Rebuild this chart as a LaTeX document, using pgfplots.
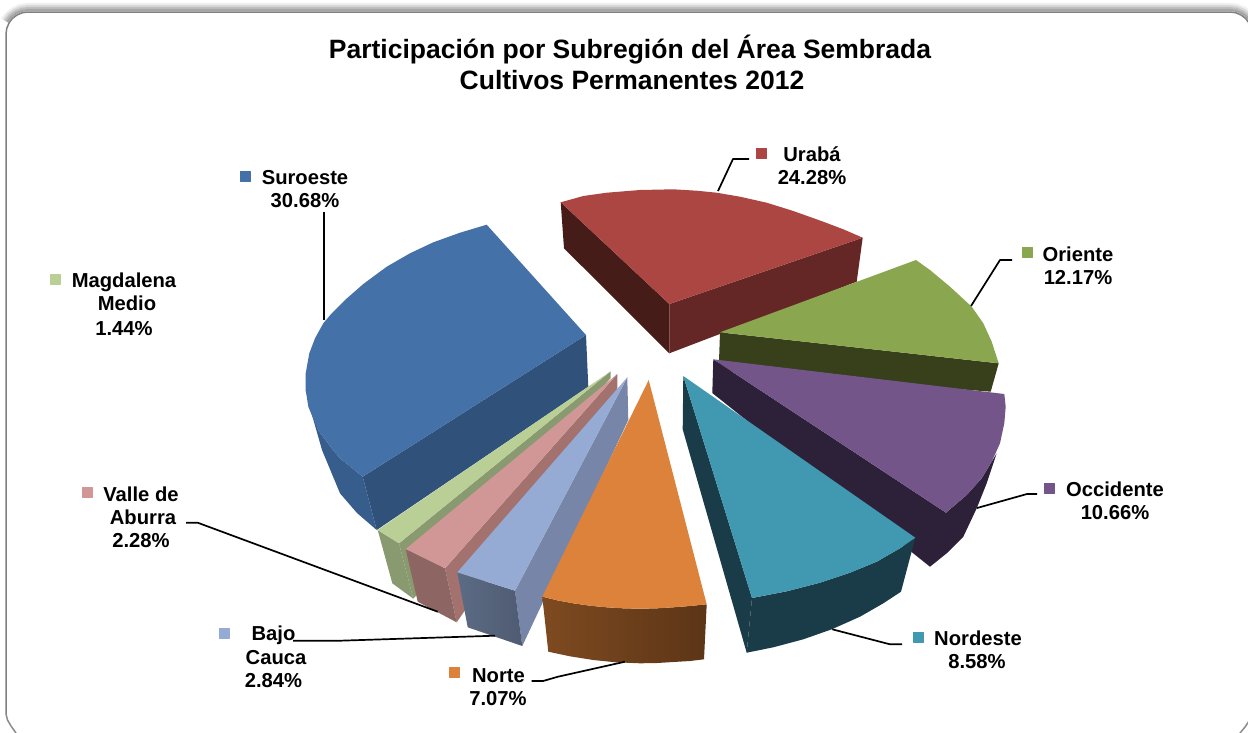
\documentclass[border=0pt]{standalone}
\usepackage{pgfplots}
\pgfplotsset{compat=1.18}
\usepackage{fontspec}
\setmainfont{Liberation Sans}
\definecolor{uTop}{HTML}{AB4642}\definecolor{uL}{HTML}{461C18}\definecolor{uR}{HTML}{642726}
\definecolor{oTop}{HTML}{8AA64E}\definecolor{oS}{HTML}{37401B}
\definecolor{cTop}{HTML}{735589}\definecolor{cS}{HTML}{2C2139}
\definecolor{nTop}{HTML}{4199B1}\definecolor{nS}{HTML}{1A3C48}
\definecolor{sTop}{HTML}{4471A7}\definecolor{sF}{HTML}{30527A}\definecolor{sL}{HTML}{365D8C}
\definecolor{mTop}{HTML}{BACF96}\definecolor{mS}{HTML}{8A9A70}
\definecolor{vTop}{HTML}{D09796}\definecolor{vS}{HTML}{A3726F}\definecolor{vF}{HTML}{8D6563}
\definecolor{bTop}{HTML}{95ABD3}\definecolor{bS}{HTML}{7786A8}\definecolor{bF}{HTML}{5C6B85}
\definecolor{tTop}{HTML}{DD823B}\definecolor{tL}{HTML}{7E4A20}\definecolor{tR}{HTML}{5C3517}
\newcommand{\lab}[3]{\node[anchor=base,font=\fontsize{20.2}{20.2}\selectfont\bfseries,inner sep=0pt] at (axis cs:#1,#2) {#3};}
\newcommand{\key}[3]{\addplot[only marks,mark=square*,mark size=5.3pt,mark options={draw=#1,fill=#1,line width=0.2pt}] coordinates {(#2,#3)};}
\begin{document}
\begin{tikzpicture}
\path[use as bounding box] (0,0) rectangle (1248pt,732pt);
\begin{axis}[
  scale only axis,width=1248pt,height=732pt,
  xmin=0,xmax=1248,ymin=0,ymax=732,y dir=reverse,
  axis lines=none,
  every axis plot/.append style={mark=none,line join=round},
]
% frame shadow
\addplot[draw=black!6,line width=2.2pt] coordinates {(2,19)(6.8,12.8)(13,8)(20.2,5)(28,4)(1230,4)(1237.8,5)(1245,8)(1251,12.8)};
\addplot[draw=black!15,line width=2.2pt] coordinates {(3.8,20)(8.2,14.2)(14,9.8)(20.7,7)(28,6)(1230,6)(1237.3,7)(1244,9.8)(1250,14.2)};
\addplot[draw=black!25,line width=2.2pt] coordinates {(5.5,21)(9.6,15.6)(15,11.5)(21.3,8.9)(28,8)(1230,8)(1236.7,8.9)(1243,11.5)(1248.4,15.6)};
\addplot[draw=black!35,line width=2.2pt] coordinates {(7.2,22)(11,17)(16,13.2)(21.8,10.8)(28,10)(1230,10)(1236.2,10.8)(1242,13.2)(1247,17)(1251,22)};
\addplot[draw=black!50,line width=1.5pt] coordinates {(6,714)(6,34)(6.8,28.3)(9,23)(12.4,18.4)(17,15)(22.3,12.7)(28,12)(1230,12)(1235.7,12.7)(1241,15)(1245.6,18.4)(1249,23)};
\addplot[draw=black!45,line width=1.5pt] coordinates {(6,714)(7.5,720)(11,726)(16,733)};
\addplot[draw=black!45,line width=1.5pt] coordinates {(1240,733)(1245,727)(1249,721)};
% Uraba
\addplot[fill=uL,draw=none] coordinates {(560.7,202.3)(669.3,304)(669.3,353.3)(564,248.3)(560.7,202.3)};
\addplot[fill=uR,draw=none] coordinates {(669.3,304)(862.7,237.7)(856.7,281.7)(669.3,353.3)(669.3,304)};
\addplot[fill=uTop,draw=none] coordinates {(669.3,304)(560.7,202.3)(583.3,196)(606.7,192.7)(640,190)(673.3,189.3)(696.7,190.7)(716.7,192.7)(740,196.7)(766.7,202.7)(793.3,211)(823.3,221.7)(843.3,229.3)(862.7,237.7)(669.3,304)};
% Oriente
\addplot[fill=oS,draw=none] coordinates {(720,332.3)(998.7,363.3)(990.7,391.7)(718.7,370)(720,332.3)};
\addplot[fill=oTop,draw=none] coordinates {(720,332.3)(916,260)(930,270)(950,286.7)(971.7,306.7)(983.3,323.3)(991.7,341.7)(998.7,363.3)(720,332.3)};
% Occidente
\addplot[fill=cS,draw=none] coordinates {(713.3,359.3)(946,512.7)(966.7,495)(981.7,478.3)(991.7,461.7)(996.7,453.3)(986.7,483.3)(976.7,508.3)(963.3,536.7)(946.7,553.3)(930,566.7)(712.3,393)(713.3,359.3)};
\addplot[fill=cTop,draw=none] coordinates {(713.3,359.3)(1004.3,394)(1005.7,406.7)(1004.3,423.3)(1000,443.3)(991.7,461.7)(981.7,478.3)(966.7,495)(946,512.7)(713.3,359.3)};
% Nordeste
\addplot[fill=nS,draw=none] coordinates {(683.3,376)(752,598)(746.7,652.7)(682.7,429.3)(683.3,376)};
\addplot[fill=nS,draw=none] coordinates {(752,598)(786.7,591.3)(820,582.7)(850,572.7)(876.7,561.7)(900,548.3)(915.3,537.7)(901,591.7)(883.3,603.3)(860,616.7)(831.7,629.3)(803.3,639.3)(773.3,647.3)(746.7,652.7)(752,598)};
\addplot[fill=nTop,draw=none] coordinates {(683.3,376)(915.3,537.7)(900,548.3)(876.7,561.7)(850,572.7)(820,582.7)(786.7,591.3)(752,598)(683.3,376)};
% Suroeste
\addplot[fill=sF,draw=none] coordinates {(586,335)(362.7,476.7)(376.7,530)(588.3,386.7)(586,335)};
\addplot[fill=sL,draw=none] coordinates {(305.7,390)(312,415)(322,450)(340,493.3)(357,513)(376.7,530)(362.7,476.7)(340,458.3)(333,450)(318,430)(305.7,390)};
\addplot[fill=sTop,draw=none] coordinates {(486.7,224.7)(586,335)(362.7,476.7)(340,458.3)(333,450)(318,430)(308.3,406.7)(305.7,390)(305.7,373.3)(309.3,353.3)(315,338.3)(323.3,323.3)(331.7,313.3)(345,300)(363.3,284)(386.7,266.7)(410,253.3)(433.3,242.3)(460,232.7)(486.7,224.7)};
% Magdalena
\addplot[fill=mS,draw=none] coordinates {(610.7,371.3)(399,543.3)(413.3,598.7)(610.7,378)(610.7,371.3)};
\addplot[fill=mS,draw=none] coordinates {(377.7,530)(399,543.3)(413.3,598.7)(392.3,583.3)(377.7,530)};
\addplot[fill=mTop,draw=none] coordinates {(610.7,371.3)(377.7,530)(399,543.3)(610.7,371.3)};
% Valle
\addplot[fill=vS,draw=none] coordinates {(617.3,374)(445,568.3)(456.7,622.3)(617.3,390)(617.3,374)};
\addplot[fill=vF,draw=none] coordinates {(405.7,549)(445,568.3)(456.7,622.3)(417.7,601.7)(405.7,549)};
\addplot[fill=vTop,draw=none] coordinates {(617.3,374)(405.7,549)(445,568.3)(617.3,374)};
% Bajo Cauca
\addplot[fill=bS,draw=none] coordinates {(627.3,377.3)(515,590.7)(522.3,646)(628.3,420)(627.3,377.3)};
\addplot[left color=bF,right color=bF!85!black,draw=none] coordinates {(457.3,572.3)(515,590.7)(522.3,646)(467.7,627.3)(457.3,572.3)};
\addplot[fill=bTop,draw=none] coordinates {(627.3,377.3)(457.3,572.3)(515,590.7)(627.3,377.3)};
% Norte
\addplot[left color=tL,right color=tR,draw=none] coordinates {(542.3,596.7)(558,600.5)(573.3,603.3)(590,605.7)(606.7,607.3)(623,608.3)(640,608.7)(657,608.3)(673.3,607.3)(690,606)(706.7,604.3)(704,659.3)(690,661)(673.3,662)(657,663)(640,663.3)(616,662.3)(593.3,660)(570,656.3)(548.3,651.7)(542.3,596.7)};
\addplot[fill=tTop,draw=none] coordinates {(648.7,380)(706.7,604.3)(690,606)(673.3,607.3)(657,608.3)(640,608.7)(623,608.3)(606.7,607.3)(590,605.7)(573.3,603.3)(558,600.5)(542.3,596.7)(648.7,380)};
% leaders
\addplot[black,line width=1.7pt] coordinates {(718,191)(733,159)(749,159)};
\addplot[black,line width=1.7pt] coordinates {(971,306)(1000,260)(1012,260)};
\addplot[black,line width=1.7pt] coordinates {(977,508)(1027,494)(1037,494)};
\addplot[black,line width=1.7pt] coordinates {(832.3,629.3)(890,644.3)(902,644.3)};
\addplot[black,line width=1.7pt] coordinates {(625,661.7)(558,676.7)(543,681)(531.7,681)};
\addplot[black,line width=1.7pt] coordinates {(495,635.7)(340,640.7)(293,640.7)};
\addplot[black,line width=1.7pt] coordinates {(437.7,611.7)(197.7,522.7)(186,522.7)};
\addplot[black,line width=1.7pt] coordinates {(324.3,212)(324.3,320)};
% legend keys
\key{uTop}{761}{153}
\key{oTop}{1027}{252}
\key{cTop}{1049}{488}
\key{nTop}{918}{637}
\key{tTop}{454}{672}
\key{bTop}{224}{633}
\key{vTop}{87}{492}
\key{mTop}{55}{279}
\key{sTop}{245}{176}
% text
\node[anchor=base,font=\fontsize{26.5}{26.5}\selectfont\bfseries,inner sep=0pt] at (axis cs:630,58) {Participación por Subregión del Área Sembrada};
\node[anchor=base,font=\fontsize{26.5}{26.5}\selectfont\bfseries,inner sep=0pt] at (axis cs:632,89) {Cultivos Permanentes 2012};
\lab{812}{161}{Urabá}\lab{812}{184}{24.28\%}
\lab{1078}{261}{Oriente}\lab{1078}{284}{12.17\%}
\lab{1115}{496}{Occidente}\lab{1115}{519}{10.66\%}
\lab{978}{645}{Nordeste}\lab{977}{668}{8.58\%}
\lab{498.5}{682}{Norte}\lab{498}{705}{7.07\%}
\lab{273.5}{640}{Bajo}\lab{276}{664}{Cauca}\lab{273.5}{687}{2.84\%}
\lab{141}{501}{Valle de}\lab{143}{524}{Aburra}\lab{141}{547}{2.28\%}
\lab{124}{287}{Magdalena}\lab{127}{310}{Medio}\lab{124}{335}{1.44\%}
\lab{305}{184}{Suroeste}\lab{305}{207}{30.68\%}
\end{axis}
\end{tikzpicture}
\end{document}
